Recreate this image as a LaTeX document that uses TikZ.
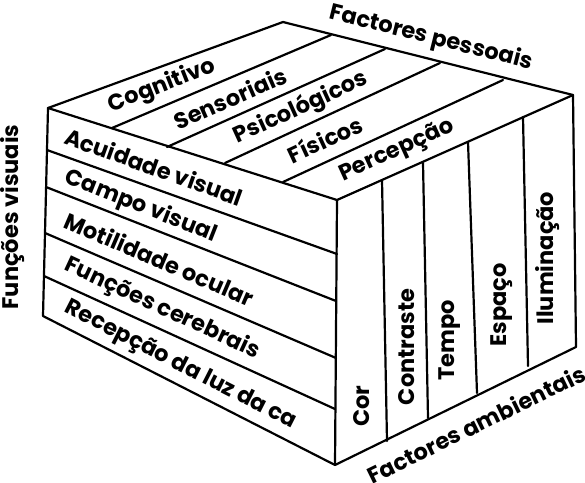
\documentclass[tikz,border=0pt]{standalone}
\usepackage{fontspec}
\setmainfont{Poppins}
\begin{document}
\begin{tikzpicture}[x=1pt,y=-1pt,
  edge/.style={line width=2.2pt, line join=round, line cap=round},
  lab/.style={font=\fontsize{22.5}{26}\selectfont\bfseries, inner sep=0pt}]
\useasboundingbox (0,0) rectangle (585,482);
% cube corners
\coordinate (B) at (283,22);
\coordinate (L) at (48,108);
\coordinate (F) at (337,200);
\coordinate (R) at (573,95);
\coordinate (LB) at (43,316);
\coordinate (FB) at (335,465);
\coordinate (RB) at (576,347);
% top face dividers
\coordinate (t1a) at (112,128); \coordinate (t1b) at (331,35);
\coordinate (t2a) at (167,147); \coordinate (t2b) at (385,49);
\coordinate (t3a) at (225,163); \coordinate (t3b) at (440,63);
\coordinate (t4a) at (283,182); \coordinate (t4b) at (503,80);
% left face dividers
\coordinate (l1a) at (47,150); \coordinate (l1b) at (337,254);
\coordinate (l2a) at (46,187); \coordinate (l2b) at (336,301);
\coordinate (l3a) at (45,233); \coordinate (l3b) at (336,358);
\coordinate (l4a) at (44,276); \coordinate (l4b) at (335,409);
% right face dividers
\coordinate (r1a) at (382,180); \coordinate (r1b) at (387,441);
\coordinate (r2a) at (423,163); \coordinate (r2b) at (428,418);
\coordinate (r3a) at (468,142); \coordinate (r3b) at (477,393);
\coordinate (r4a) at (523,117); \coordinate (r4b) at (528,366);

\draw[edge] (L) -- (B) -- (R) -- (RB) -- (FB) -- (LB) -- cycle;
\draw[edge] (L) -- (F) -- (R);
\draw[edge] (F) -- (FB);
\foreach \i in {1,2,3,4} {
  \draw[edge] (t\i a) -- (t\i b);
  \draw[edge] (l\i a) -- (l\i b);
  \draw[edge] (r\i a) -- (r\i b);
}

% top face labels
\node[lab, rotate=21.5] (cog) at (162,86) {Cognitivo};
\node[lab, rotate=23.6] (sen) at (230,98) {Sensoriais};
\node[lab, rotate=24.5] (psi) at (301,108) {Psicológicos};
\node[lab, rotate=24.9] (fis) at (325,139) {Físicos};
\node[lab, rotate=24.5] (per) at (397,151) {Percepção};

% left face labels
\node[lab, rotate=-19.7, anchor=west] (acu) at (66,135) {Acuidade visual};
\node[lab, rotate=-21.5, anchor=west] (cam) at (66,177) {Campo visual};
\node[lab, rotate=-23.2, anchor=west] (mot) at (66,219) {Motilidade ocular};
\node[lab, rotate=-24.9, anchor=west] (fun) at (66,264) {Funções cerebrais};
\node[lab, rotate=-27, anchor=west] (rec) at (66,307) {Recepção da luz da ca};

% right face labels
\node[lab, rotate=90] (cor) at (362,406) {Cor};
\node[lab, rotate=90] (con) at (407,347) {Contraste};
\node[lab, rotate=90] (tem) at (450,340) {Tempo};
\node[lab, rotate=90] (esp) at (502,305) {Espaço};
\node[lab, rotate=90] (ilu) at (548,258) {Iluminação};

% axis titles
\node[lab, rotate=-14.1] (fp) at (431,38) {Factores pessoais};
\node[lab, rotate=26] (fa) at (476,424) {Factores ambientais};
\node[lab, rotate=90] (fv) at (13,217) {Funções visuais};
\end{tikzpicture}
\end{document}
